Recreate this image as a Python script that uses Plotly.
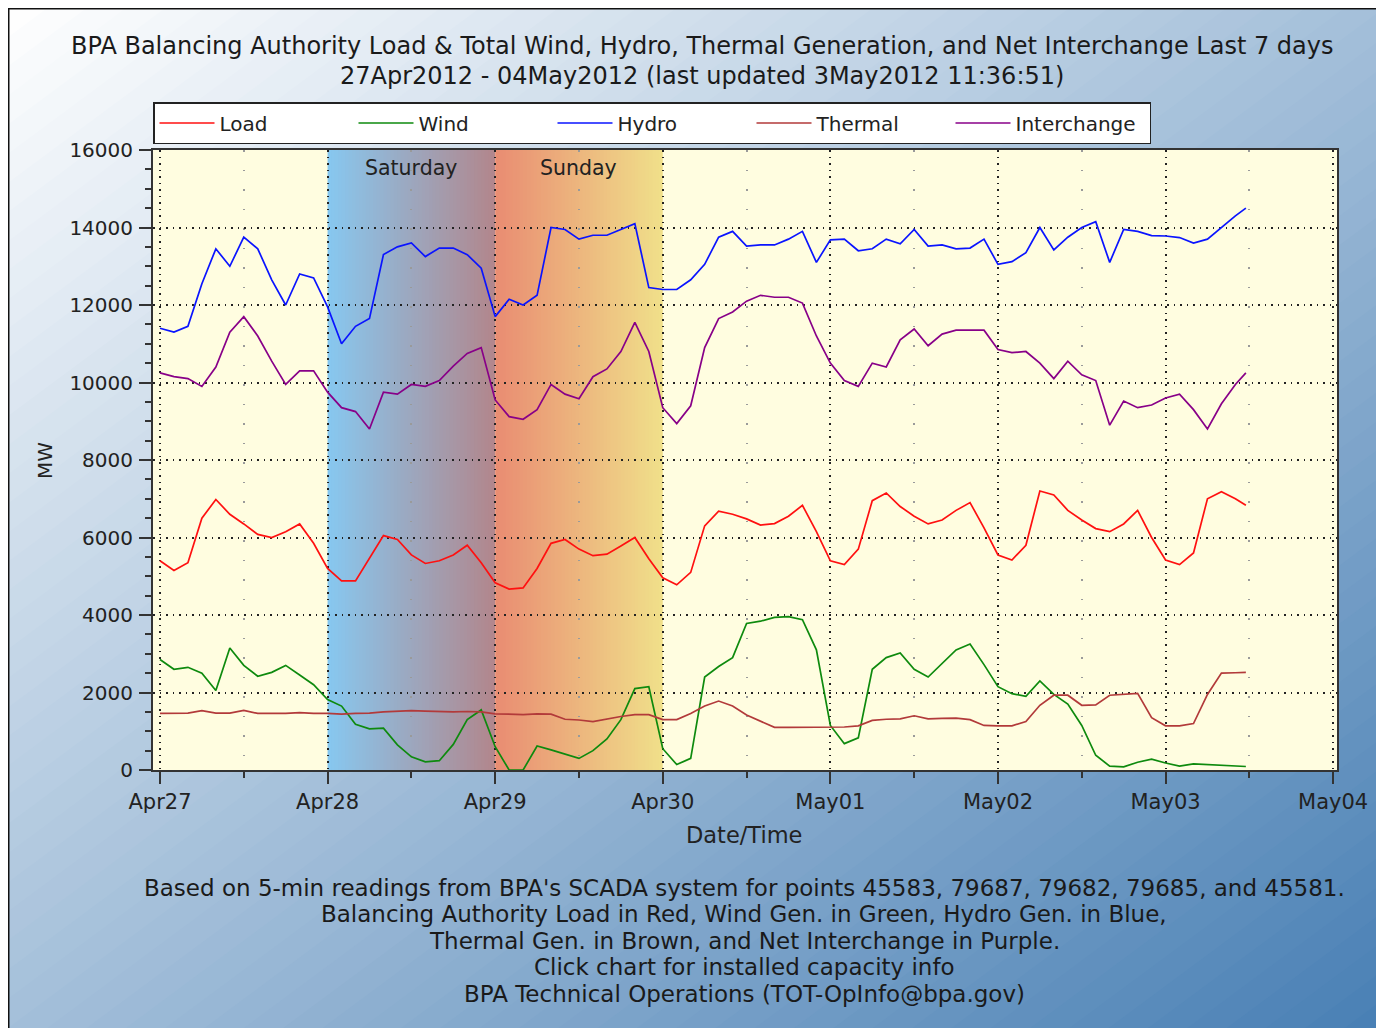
import pandas as pd
import plotly.graph_objects as go

# ---------------- data (hours after 27 Apr 2012 00:00, values in MW) ----------------
hours = [0, 2, 4, 6, 8, 10, 12, 14, 16, 18, 20, 22,
         24, 26, 28, 30, 32, 34, 36, 38, 40, 42, 44, 46,
         48, 50, 52, 54, 56, 58, 60, 62, 64, 66, 68, 70,
         72, 74, 76, 78, 80, 82, 84, 86, 88, 90, 92, 94,
         96, 98, 100, 102, 104, 106, 108, 110, 112, 114, 116, 118,
         120, 122, 124, 126, 128, 130, 132, 134, 136, 138, 140, 142,
         144, 146, 148, 150, 152, 154, 155.5]

load = [5400, 5150, 5350, 6500, 6980, 6600, 6350, 6080, 6000, 6150, 6350, 5850,
        5200, 4880, 4880, 5450, 6050, 5950, 5550, 5330, 5400, 5550, 5800, 5350,
        4830, 4670, 4700, 5200, 5850, 5950, 5700, 5530, 5570, 5780, 6000, 5450,
        4960, 4780, 5100, 6300, 6680, 6600, 6480, 6320, 6360, 6550, 6830, 6150,
        5400, 5300, 5700, 6950, 7150, 6800, 6550, 6350, 6450, 6700, 6900, 6250,
        5550, 5420, 5800, 7200, 7100, 6700, 6450, 6230, 6150, 6350, 6700, 6000,
        5420, 5300, 5600, 7000, 7180, 7000, 6830]

wind = [2850, 2600, 2650, 2500, 2050, 3150, 2700, 2420, 2520, 2700, 2450, 2200,
        1820, 1650, 1180, 1060, 1080, 650, 340, 210, 240, 660, 1300, 1550,
        600, 0, 0, 620, 520, 400, 300, 500, 800, 1300, 2100, 2150,
        550, 140, 300, 2400, 2670, 2900, 3780, 3840, 3940, 3960, 3880, 3100,
        1150, 680, 830, 2600, 2900, 3020, 2600, 2400, 2750, 3100, 3250, 2720,
        2150, 1970, 1900, 2300, 1950, 1700, 1150, 380, 100, 80, 200, 280,
        180, 100, 160, 140, 110, 90, 90]

hydro = [11400, 11300, 11450, 12550, 13450, 13000, 13750, 13450, 12650, 12000, 12800, 12700,
         11950, 11000, 11450, 11650, 13300, 13500, 13600, 13250, 13470, 13470, 13300, 12950,
         11700, 12150, 12000, 12250, 14000, 13950, 13700, 13800, 13800, 13950, 14100, 12450,
         12400, 12400, 12650, 13050, 13750, 13900, 13520, 13550, 13550, 13700, 13900, 13100,
         13680, 13700, 13400, 13450, 13700, 13580, 13950, 13520, 13550, 13450, 13470, 13700,
         13050, 13120, 13350, 14000, 13420, 13750, 14000, 14150, 13100, 13950, 13900, 13790,
         13780, 13740, 13600, 13700, 14000, 14300, 14500]

thermal = [1460, 1460, 1470, 1530, 1470, 1470, 1540, 1460, 1460, 1460, 1480, 1460,
           1460, 1440, 1460, 1470, 1500, 1510, 1530, 1520, 1510, 1500, 1510, 1500,
           1450, 1440, 1430, 1450, 1440, 1310, 1290, 1250, 1320, 1380, 1430, 1430,
           1300, 1300, 1460, 1650, 1780, 1650, 1420, 1270, 1100, 1100, 1100, 1100,
           1100, 1110, 1140, 1280, 1310, 1320, 1400, 1320, 1330, 1340, 1300, 1150,
           1140, 1140, 1250, 1670, 1930, 1930, 1670, 1680, 1930, 1950, 1980, 1350,
           1140, 1140, 1200, 1950, 2500, 2510, 2520]

interchange = [10250, 10150, 10100, 9900, 10400, 11300, 11700, 11200, 10550, 9950, 10300, 10300,
               9750, 9350, 9250, 8800, 9750, 9700, 9950, 9900, 10050, 10420, 10750, 10900,
               9550, 9120, 9050, 9300, 9950, 9700, 9580, 10150, 10350, 10800, 11550, 10800,
               9350, 8940, 9400, 10900, 11650, 11820, 12100, 12250, 12200, 12200, 12050, 11200,
               10500, 10050, 9900, 10500, 10400, 11100, 11380, 10950, 11250, 11350, 11350, 11350,
               10850, 10770, 10800, 10500, 10100, 10550, 10200, 10050, 8900, 9520, 9350, 9420,
               9600, 9700, 9300, 8800, 9450, 9950, 10250]

series_names = ["Load", "Wind", "Hydro", "Thermal", "Interchange"]
series_colors = ["#ff1010", "#0e8a0e", "#0a14ff", "#b23a3a", "#880088"]

y_ticks = [0, 2000, 4000, 6000, 8000, 10000, 12000, 14000, 16000]

title_lines = ["BPA Balancing Authority Load & Total Wind, Hydro, Thermal Generation, and Net Interchange Last 7 days",
               "27Apr2012 - 04May2012 (last updated 3May2012 11:36:51)"]
foot_lines = ["Based on 5-min readings from BPA's SCADA system for points 45583, 79687, 79682, 79685, and 45581.",
              "Balancing Authority Load in Red, Wind Gen. in Green, Hydro Gen. in Blue,",
              "Thermal Gen. in Brown, and Net Interchange in Purple.",
              "Click chart for installed capacity info",
              "BPA Technical Operations (TOT-OpInfo@bpa.gov)"]

# ---------------- geometry helpers (page pixel coordinates) ----------------
PAGE_W, PAGE_H = 1384, 1028
OFF = 8                      # the figure div sits 8 px into the page
W, H = PAGE_W - OFF, PAGE_H - OFF
L, R, T, B = 153, 1337, 150, 770
PW, PH = R - L, B - T
FONT = "DejaVu Sans"
start = pd.Timestamp("2012-04-27")


def px(x):
    return (x - L) / PW


def py(y):
    return (B - y) / PH


def mix(c0, c1, t):
    return "rgb(%d,%d,%d)" % tuple(round(a + (b - a) * t) for a, b in zip(c0, c1))


def ts(h):
    return (start + pd.Timedelta(hours=h)).strftime("%Y-%m-%d %H:%M:%S")


times = start + pd.to_timedelta(hours, unit="h")

fig = go.Figure()
for name, vals, col in zip(series_names, [load, wind, hydro, thermal, interchange], series_colors):
    fig.add_trace(go.Scatter(x=times, y=vals, mode="lines", name=name,
                             line=dict(color=col, width=1.7)))

shapes = []
# diagonal page gradient
N = 70
X0, Y0 = OFF, OFF
GW, GH = PAGE_W - X0, PAGE_H - Y0
c_light, c_dark = (255, 255, 255), (72, 127, 180)
for k in range(N):
    a = 2 * k / N
    b = 2 * (k + 1) / N + 0.004
    col = mix(c_light, c_dark, (k + 0.5) / N)
    pts = [(X0 + GW * a, Y0), (X0 + GW * b, Y0), (X0, Y0 + GH * b), (X0, Y0 + GH * a)]
    path = "M " + " L ".join("%.5f,%.5f" % (px(x), py(y)) for x, y in pts) + " Z"
    shapes.append(dict(type="path", path=path, xref="paper", yref="paper",
                       fillcolor=col, line=dict(width=0), layer="below"))
# dark frame lines on the left and top of the image
shapes.append(dict(type="line", xref="paper", yref="paper", x0=px(8.7), x1=px(8.7), y0=py(8), y1=py(PAGE_H + 5),
                   line=dict(color="#111", width=1.6), layer="below"))
shapes.append(dict(type="line", xref="paper", yref="paper", x0=px(8), x1=px(PAGE_W + 5), y0=py(8.7), y1=py(8.7),
                   line=dict(color="#111", width=1.6), layer="below"))
# plot background
shapes.append(dict(type="rect", xref="paper", yref="paper", x0=0, x1=1, y0=0, y1=1,
                   fillcolor="#fffde0", line=dict(width=0), layer="below"))
# weekend bands
M = 48
bands = [(24, (135, 200, 240), (178, 134, 140)), (48, (233, 140, 114), (240, 224, 138))]
for h0, ca, cb in bands:
    for i in range(M):
        x0 = h0 + 24 * i / M
        x1 = h0 + 24 * (i + 1) / M + (0.15 if i < M - 1 else 0)
        shapes.append(dict(type="rect", xref="x", yref="paper", x0=ts(x0), x1=ts(x1), y0=0, y1=1,
                           fillcolor=mix(ca, cb, (i + 0.5) / M), line=dict(width=0), layer="below"))

ann = []
for txt, y in zip(title_lines, [46, 76]):
    ann.append(dict(text=txt, x=px(702), y=py(y), xref="paper", yref="paper", showarrow=False,
                    xanchor="center", yanchor="middle", font=dict(family=FONT, size=24, color="#1a1a1a")))
for txt, y in zip(foot_lines, [888, 914, 941, 967, 994]):
    ann.append(dict(text=txt, x=px(744), y=py(y), xref="paper", yref="paper", showarrow=False,
                    xanchor="center", yanchor="middle", font=dict(family=FONT, size=23, color="#1a1a1a")))
ann.append(dict(text="Saturday", x=ts(36), y=py(168), xref="x", yref="paper", showarrow=False,
                xanchor="center", yanchor="middle", font=dict(family=FONT, size=20.5, color="#222")))
ann.append(dict(text="Sunday", x=ts(60), y=py(168), xref="x", yref="paper", showarrow=False,
                xanchor="center", yanchor="middle", font=dict(family=FONT, size=20.5, color="#222")))
ann.append(dict(text="MW", x=px(45), y=py(461), xref="paper", yref="paper", showarrow=False, textangle=-90,
                xanchor="center", yanchor="middle", font=dict(family=FONT, size=20, color="#222")))
ann.append(dict(text="Date/Time", x=px(744), y=py(835), xref="paper", yref="paper", showarrow=False,
                xanchor="center", yanchor="middle", font=dict(family=FONT, size=22.5, color="#222")))

fig.update_layout(
    width=W, height=H,
    margin=dict(l=L - OFF, r=PAGE_W - R, t=T - OFF, b=PAGE_H - B, autoexpand=False),
    paper_bgcolor="white", plot_bgcolor="rgba(0,0,0,0)",
    shapes=shapes, annotations=ann,
    font=dict(family=FONT, size=20, color="#222"),
    showlegend=True,
    legend=dict(orientation="h", x=0, xanchor="left", y=py(102), yanchor="top",
                bgcolor="white", bordercolor="#222", borderwidth=1.5,
                itemwidth=55, entrywidth=129, entrywidthmode="pixels",
                font=dict(family=FONT, size=20, color="#222")),
    xaxis=dict(type="date", range=[ts(-1.0), ts(168.55)], tickformat="%b%d",
               tick0="2012-04-27", dtick=86400000,
               ticks="outside", ticklen=12, tickwidth=1.5, tickcolor="#333",
               showline=True, linecolor="#333", linewidth=2, mirror=True,
               showgrid=True, gridcolor="#222", gridwidth=1.5, griddash="1.5px,5px",
               zeroline=False, automargin=False, ticklabelstandoff=0,
               tickfont=dict(family=FONT, size=21, color="#222"),
               minor=dict(dtick=43200000, ticks="outside", ticklen=6, tickwidth=1.5, tickcolor="#333",
                          showgrid=True, gridcolor="#9a9a9a", gridwidth=1.5, griddash="1.5px,18px")),
    yaxis=dict(range=[0, 16000], tickvals=y_ticks, tickformat="d",
               ticks="outside", ticklen=12, tickwidth=2, tickcolor="#333",
               showline=True, linecolor="#333", linewidth=2, mirror=True,
               showgrid=True, gridcolor="#222", gridwidth=1.5, griddash="1.5px,5px",
               zeroline=False, automargin=False, ticklabelstandoff=2,
               tickfont=dict(family=FONT, size=20, color="#222"),
               minor=dict(dtick=500, ticks="outside", ticklen=6, tickwidth=1.5, tickcolor="#333",
                          showgrid=False)),
)

fig.write_html("out.html")
